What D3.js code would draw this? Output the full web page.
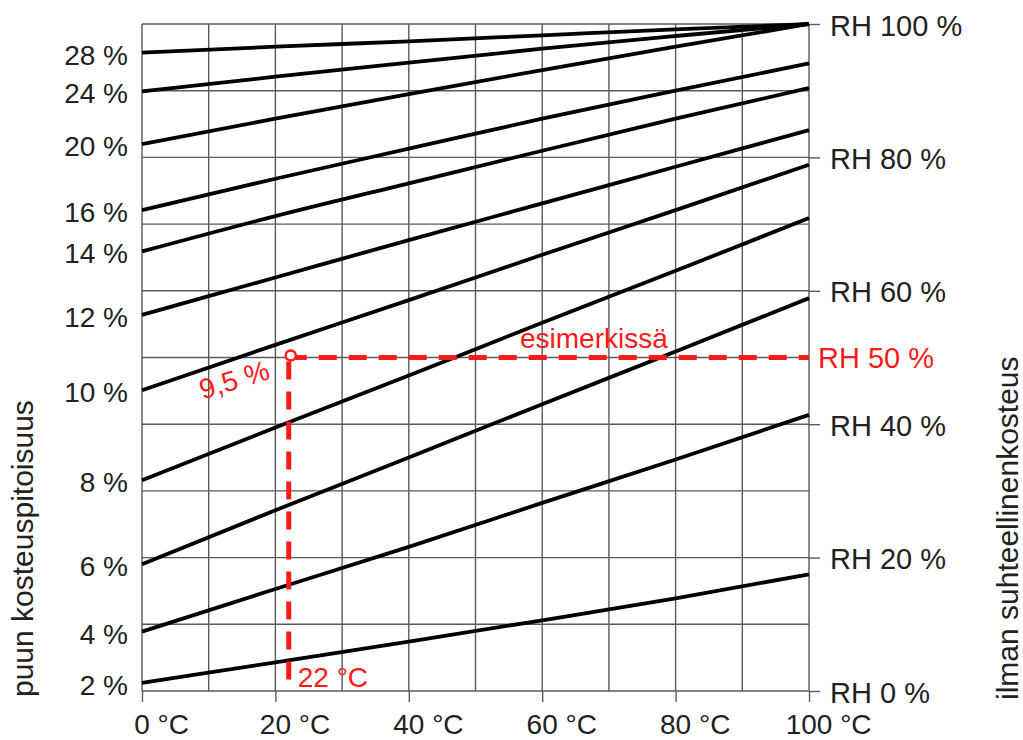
<!DOCTYPE html>
<html>
<head>
<meta charset="utf-8">
<script src="https://cdn.jsdelivr.net/npm/d3@7"></script>
<style>
  body { margin: 0; background: #fff; }
  text { font-family: "Liberation Sans", Arial, sans-serif; fill: #222; }
</style>
</head>
<body>
<div id="vis"></div>
<script>
const FRAME_WIDTH = 1023;
const FRAME_HEIGHT = 740;

// air temperature (°C) where each curve is read
const temps = [0, 20, 40, 60, 80, 100];

// wood moisture content of each curve (left labels)
const moisture = [2, 4, 6, 8, 10, 12, 14, 16, 20, 24, 28];

// relative humidity (%) of each curve at the temps above
const rhCurves = [
  [1.2, 4.3, 7.4, 10.6, 13.9, 17.5],
  [8.9, 15.3, 21.6, 28.2, 34.7, 41.4],
  [19.0, 27.1, 35.0, 43.0, 50.9, 58.9],
  [31.6, 39.5, 47.3, 55.2, 63.0, 70.9],
  [45.1, 51.9, 58.6, 65.4, 72.1, 78.9],
  [56.4, 62.0, 67.6, 73.1, 78.6, 84.1],
  [65.9, 71.2, 76.1, 81.0, 85.8, 90.4],
  [72.1, 76.8, 81.3, 85.8, 90.0, 94.1],
  [82.0, 85.8, 89.5, 93.1, 96.6, 100],
  [89.9, 92.1, 94.2, 96.3, 98.2, 100],
  [95.7, 96.6, 97.4, 98.3, 99.2, 100]
];

const gridTemps = [0, 10, 20, 30, 40, 50, 60, 70, 80, 90, 100];
const gridRH = [0, 10, 20, 30, 40, 50, 60, 70, 80, 90, 100];
const tempTicks = [0, 20, 40, 60, 80, 100];
const rhTicks = [0, 20, 40, 60, 80, 100];

// worked example
const exampleTemp = 22;
const exampleRH = 50;
const exampleMoisture = "9,5 %";

const PLOT = {left: 142, right: 809, top: 24, bottom: 691};

const svg = d3.select("#vis")
  .append("svg")
  .attr("width", FRAME_WIDTH)
  .attr("height", FRAME_HEIGHT);

const X_SCALE = d3.scaleLinear().domain([0, 100]).range([PLOT.left, PLOT.right]);
const Y_SCALE = d3.scaleLinear().domain([0, 100]).range([PLOT.bottom, PLOT.top]);

const GRID = "#5a5a5a";

// grid
svg.append("g").selectAll("line")
  .data(gridTemps).enter().append("line")
  .attr("x1", d => X_SCALE(d)).attr("x2", d => X_SCALE(d))
  .attr("y1", PLOT.top).attr("y2", PLOT.bottom)
  .attr("stroke", GRID).attr("stroke-width", 1.4);

svg.append("g").selectAll("line")
  .data(gridRH).enter().append("line")
  .attr("x1", PLOT.left).attr("x2", PLOT.right)
  .attr("y1", d => Y_SCALE(d)).attr("y2", d => Y_SCALE(d))
  .attr("stroke", GRID).attr("stroke-width", 1.4);

// bottom axis ticks + labels (number centred on tick, unit follows)
const xAxis = svg.append("g")
  .attr("transform", `translate(0,${PLOT.bottom})`)
  .call(d3.axisBottom(X_SCALE).tickValues(tempTicks).tickSize(11).tickFormat(""));
xAxis.select(".domain").remove();
xAxis.selectAll(".tick line").attr("stroke", GRID).attr("stroke-width", 1.4);

tempTicks.forEach(t => {
  const lbl = svg.append("text")
    .attr("y", 734)
    .attr("font-size", 28)
    .text(t);
  const w = lbl.node().getComputedTextLength();
  lbl.text(t + " °C").attr("x", X_SCALE(t) - w / 2);
});

// right axis
const yAxis = svg.append("g")
  .attr("transform", `translate(${PLOT.right},0)`)
  .call(d3.axisRight(Y_SCALE).tickValues(rhTicks).tickSize(11).tickPadding(10)
    .tickFormat(d => "RH " + d + " %"));
yAxis.select(".domain").remove();
yAxis.selectAll(".tick line").attr("stroke", GRID).attr("stroke-width", 1.4);
yAxis.selectAll(".tick text")
  .attr("font-size", 29)
  .attr("font-family", "Liberation Sans, Arial, sans-serif")
  .attr("fill", "#222")
  .attr("dy", "0.38em");

// moisture curves
const line = d3.line()
  .x((d, i) => X_SCALE(temps[i]))
  .y(d => Y_SCALE(d))
  .curve(d3.curveMonotoneX);

svg.append("g").selectAll("path")
  .data(rhCurves).enter().append("path")
  .attr("d", d => line(d))
  .attr("fill", "none")
  .attr("stroke", "#000")
  .attr("stroke-width", 3.8);

// left labels at curve starts
svg.append("g").selectAll("text")
  .data(moisture).enter().append("text")
  .attr("x", 128)
  .attr("y", (d, i) => Y_SCALE(rhCurves[i][0]) + 12)
  .attr("text-anchor", "end")
  .attr("font-size", 28)
  .text(d => d + " %");

// axis titles
svg.append("text")
  .attr("transform", "translate(33,697) rotate(-90)")
  .attr("font-size", 30)
  .text("puun kosteuspitoisuus");

svg.append("text")
  .attr("transform", "translate(1018,700) rotate(-90)")
  .attr("font-size", 30)
  .text("ilman suhteellinenkosteus");

// example in red
const RED = "#ff1a1a";
const ex = X_SCALE(exampleTemp);
const ey = Y_SCALE(exampleRH);

svg.append("line")
  .attr("x1", ex).attr("x2", PLOT.right)
  .attr("y1", ey).attr("y2", ey)
  .attr("stroke", RED).attr("stroke-width", 5)
  .attr("stroke-dasharray", "18,12");

svg.append("line")
  .attr("x1", ex).attr("x2", ex)
  .attr("y1", ey + 4).attr("y2", PLOT.bottom)
  .attr("stroke", RED).attr("stroke-width", 5)
  .attr("stroke-dasharray", "18,12");

svg.append("circle")
  .attr("cx", ex + 2).attr("cy", ey - 2).attr("r", 5)
  .attr("fill", "#fff").attr("stroke", RED).attr("stroke-width", 2.5);

svg.append("text")
  .attr("x", 818).attr("y", ey + 10)
  .attr("font-size", 29)
  .style("fill", RED)
  .text("RH " + exampleRH + " %");

svg.append("text")
  .attr("x", 520).attr("y", ey - 10)
  .attr("font-size", 28)
  .style("fill", RED)
  .text("esimerkissä");

svg.append("text")
  .attr("x", ex + 9).attr("y", PLOT.bottom - 4)
  .attr("font-size", 28)
  .style("fill", RED)
  .text(exampleTemp + " °C");

svg.append("text")
  .attr("transform", `translate(${ex - 86},${ey + 42}) rotate(-17)`)
  .attr("font-size", 28)
  .style("fill", RED)
  .text(exampleMoisture);
</script>
</body>
</html>
